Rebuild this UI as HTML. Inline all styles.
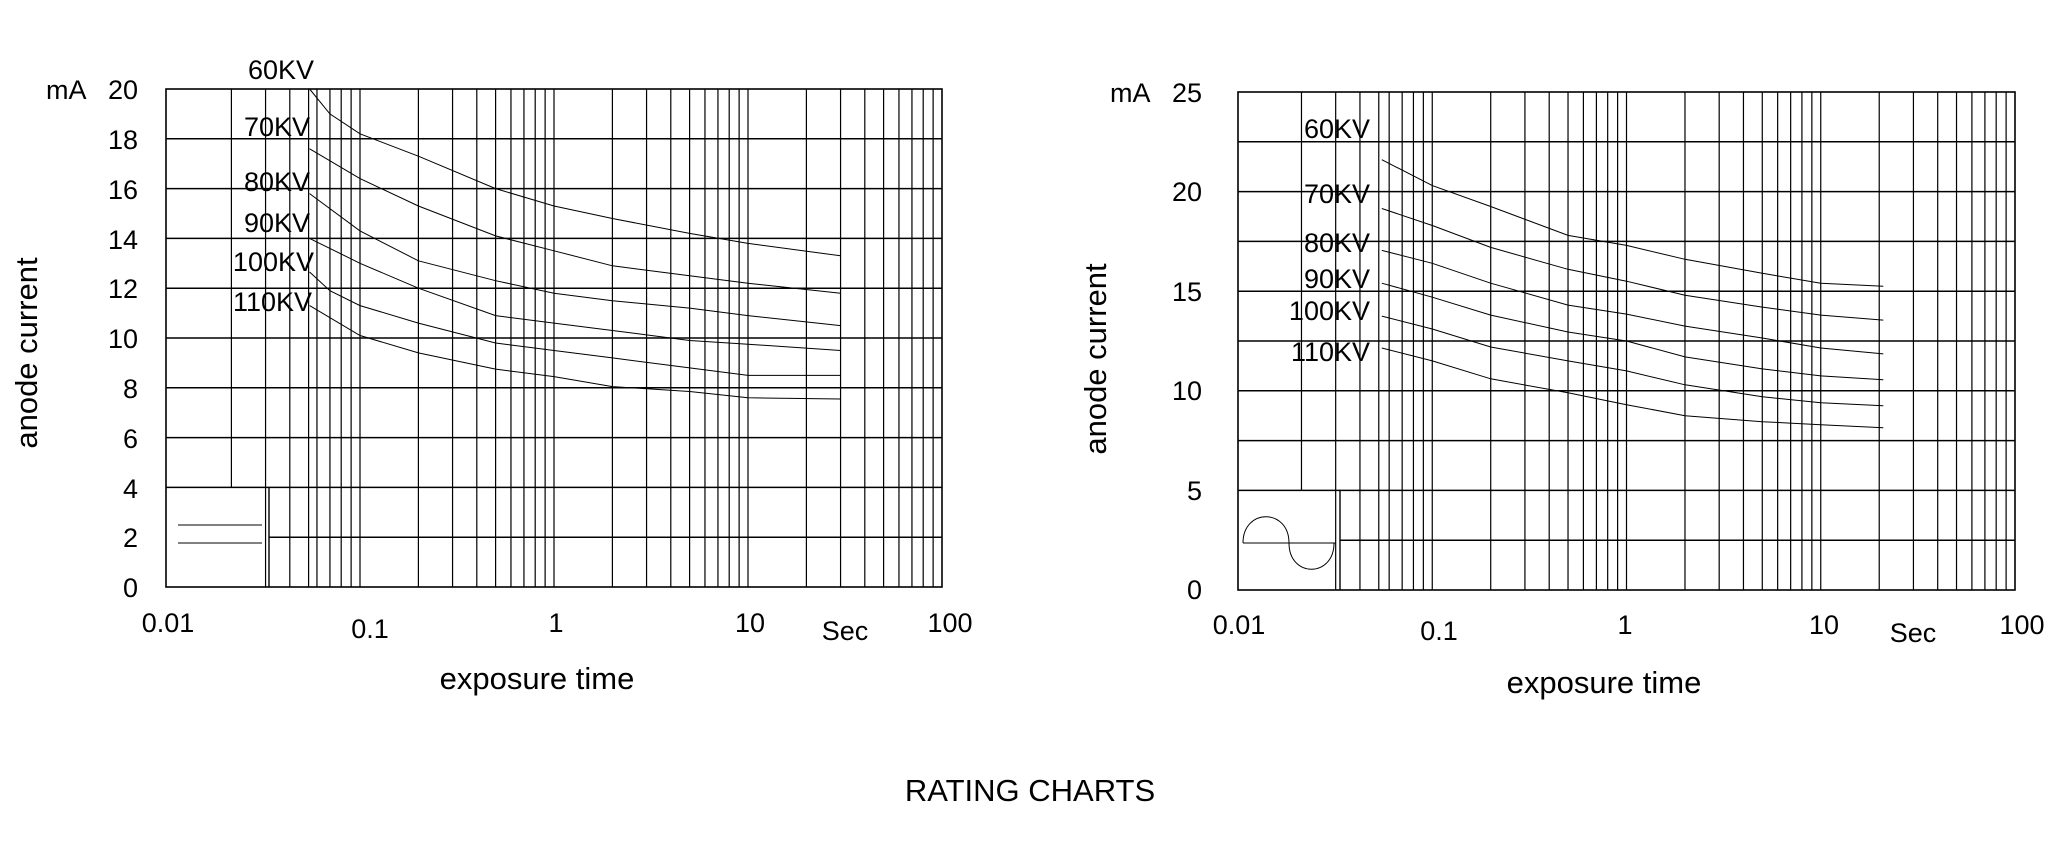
<!DOCTYPE html>
<html><head><meta charset="utf-8"><style>
html,body{margin:0;padding:0;background:#fff;}
svg{display:block}
text{font-family:"Liberation Sans Narrow","Liberation Sans",sans-serif;fill:#000}
.t{font-size:27px}
.ax{font-family:"Liberation Sans",sans-serif;font-size:31px}
</style></head><body>
<svg id="s" width="2048" height="861" viewBox="0 0 2048 861" xmlns="http://www.w3.org/2000/svg">
<g id="g1"></g>
<g class="t">
<text x="314" y="79" text-anchor="end">60KV</text>
<text x="310" y="136" text-anchor="end">70KV</text>
<text x="310" y="191" text-anchor="end">80KV</text>
<text x="310" y="232" text-anchor="end">90KV</text>
<text x="314" y="271" text-anchor="end">100KV</text>
<text x="312" y="311" text-anchor="end">110KV</text>
<text x="46" y="99">mA</text>
<text x="138" y="99" text-anchor="end">20</text>
<text x="138" y="149" text-anchor="end">18</text>
<text x="138" y="199" text-anchor="end">16</text>
<text x="138" y="249" text-anchor="end">14</text>
<text x="138" y="298" text-anchor="end">12</text>
<text x="138" y="348" text-anchor="end">10</text>
<text x="138" y="398" text-anchor="end">8</text>
<text x="138" y="448" text-anchor="end">6</text>
<text x="138" y="498" text-anchor="end">4</text>
<text x="138" y="547" text-anchor="end">2</text>
<text x="138" y="597" text-anchor="end">0</text>
<text x="168" y="632" text-anchor="middle">0.01</text>
<text x="370" y="638" text-anchor="middle">0.1</text>
<text x="556" y="632" text-anchor="middle">1</text>
<text x="750" y="632" text-anchor="middle">10</text>
<text x="845" y="640" text-anchor="middle">Sec</text>
<text x="950" y="632" text-anchor="middle">100</text>
</g>
<text class="ax" x="537" y="689" text-anchor="middle">exposure time</text>
<text class="ax" transform="translate(37,353) rotate(-90)" text-anchor="middle">anode current</text>
<g class="t">
<text x="1370" y="138" text-anchor="end">60KV</text>
<text x="1370" y="203" text-anchor="end">70KV</text>
<text x="1370" y="252" text-anchor="end">80KV</text>
<text x="1370" y="288" text-anchor="end">90KV</text>
<text x="1370" y="320" text-anchor="end">100KV</text>
<text x="1370" y="361" text-anchor="end">110KV</text>
<text x="1110" y="102">mA</text>
<text x="1202" y="102" text-anchor="end">25</text>
<text x="1202" y="201" text-anchor="end">20</text>
<text x="1202" y="301" text-anchor="end">15</text>
<text x="1202" y="400" text-anchor="end">10</text>
<text x="1202" y="500" text-anchor="end">5</text>
<text x="1202" y="599" text-anchor="end">0</text>
<text x="1239" y="634" text-anchor="middle">0.01</text>
<text x="1439" y="640" text-anchor="middle">0.1</text>
<text x="1625" y="634" text-anchor="middle">1</text>
<text x="1824" y="634" text-anchor="middle">10</text>
<text x="1913" y="642" text-anchor="middle">Sec</text>
<text x="2022" y="634" text-anchor="middle">100</text>
</g>
<text class="ax" x="1604" y="693" text-anchor="middle">exposure time</text>
<text class="ax" transform="translate(1106,359) rotate(-90)" text-anchor="middle">anode current</text>
<text class="ax" x="1030" y="801" text-anchor="middle">RATING CHARTS</text>
</svg>
<script>
(function(){
var g=document.getElementById('g1'),NS='http://www.w3.org/2000/svg';
function el(n,a){var e=document.createElementNS(NS,n);for(var k in a)e.setAttribute(k,a[k]);g.appendChild(e);return e;}
function line(x1,y1,x2,y2,w){el('line',{x1:x1,y1:y1,x2:x2,y2:y2,stroke:'#000','stroke-width':w||1.4});}
function chart(c){
  var X=function(v){return c.x0+(Math.log10(v)+2)*c.dw;};
  var Y=function(v){return c.y1-(v/c.ymax)*(c.y1-c.y0);};
  for(var d=0;d<4;d++){for(var m=1;m<=9;m++){var v=m*Math.pow(10,d-2);var x=X(v);
    if(d==0&&m==1)continue;
    if(d==0&&m<=5)x+=c.shift;
    var yb=c.y1;
    if(d==0&&m==2)yb=Y(c.boxTop);
    line(x,c.y0,x,yb,1.2);}}
  for(var v=c.ystep;v<c.ymax-0.01;v+=c.ystep){var y=Y(v);var xs=c.x0;if(v<c.boxTop)xs=c.boxR;line(xs,y,c.x1,y,1.5);}
  line(c.boxR,Y(c.boxTop),c.boxR,c.y1,1.4);
  el('rect',{x:c.x0,y:c.y0,width:c.x1-c.x0,height:c.y1-c.y0,fill:'none',stroke:'#000','stroke-width':1.6});
  c.curves.forEach(function(cv){var pts=cv.map(function(p){return X(p[0]).toFixed(1)+','+Y(p[1]).toFixed(1);}).join(' ');
    el('polyline',{points:pts,fill:'none',stroke:'#000','stroke-width':1});});
}
chart({x0:166,x1:942,y0:89,y1:587,dw:194,ymax:20,ystep:2,boxTop:4,boxR:269,shift:7,curves:[
 [[0.055,20],[0.07,19],[0.1,18.2],[0.2,17.3],[0.5,16],[1,15.3],[2,14.8],[5,14.2],[10,13.8],[30,13.3]],
 [[0.055,17.6],[0.1,16.4],[0.2,15.3],[0.5,14.1],[1,13.5],[2,12.9],[5,12.5],[10,12.2],[30,11.8]],
 [[0.055,15.8],[0.1,14.3],[0.2,13.1],[0.5,12.3],[1,11.8],[2,11.5],[5,11.2],[10,10.9],[30,10.5]],
 [[0.055,14.0],[0.1,13.0],[0.2,12.0],[0.5,10.9],[1,10.6],[2,10.3],[5,9.9],[10,9.75],[30,9.5]],
 [[0.055,12.65],[0.07,11.9],[0.1,11.3],[0.2,10.6],[0.5,9.8],[1,9.5],[2,9.2],[5,8.8],[10,8.5],[30,8.5]],
 [[0.055,11.3],[0.1,10.1],[0.2,9.4],[0.5,8.75],[1,8.45],[2,8.05],[5,7.85],[10,7.6],[30,7.55]]]});
line(178,525,262,525,1);line(178,543,262,543,1);
chart({x0:1238,x1:2015,y0:92,y1:590,dw:194.25,ymax:25,ystep:2.5,boxTop:5,boxR:1340,shift:5,curves:[
 [[0.055,21.6],[0.1,20.3],[0.2,19.25],[0.5,17.8],[1,17.3],[2,16.6],[5,15.9],[10,15.4],[21,15.25]],
 [[0.055,19.15],[0.1,18.3],[0.2,17.2],[0.5,16.1],[1,15.5],[2,14.8],[5,14.2],[10,13.8],[21,13.55]],
 [[0.055,17.05],[0.1,16.4],[0.2,15.4],[0.5,14.3],[1,13.85],[2,13.25],[5,12.65],[10,12.15],[21,11.85]],
 [[0.055,15.4],[0.1,14.7],[0.2,13.8],[0.5,12.95],[1,12.5],[2,11.7],[5,11.1],[10,10.75],[21,10.55]],
 [[0.055,13.75],[0.1,13.1],[0.2,12.2],[0.5,11.5],[1,11.0],[2,10.3],[5,9.7],[10,9.4],[21,9.25]],
 [[0.055,12.15],[0.1,11.5],[0.2,10.6],[0.5,9.9],[1,9.3],[2,8.75],[5,8.45],[10,8.3],[21,8.15]]]});
line(1243,543,1336,543,1);
el('path',{d:'M1243,543 C1243,508 1289,508 1289,543 C1289,578 1334,578 1334,543',fill:'none',stroke:'#000','stroke-width':1});
})();
</script>
</body></html>
